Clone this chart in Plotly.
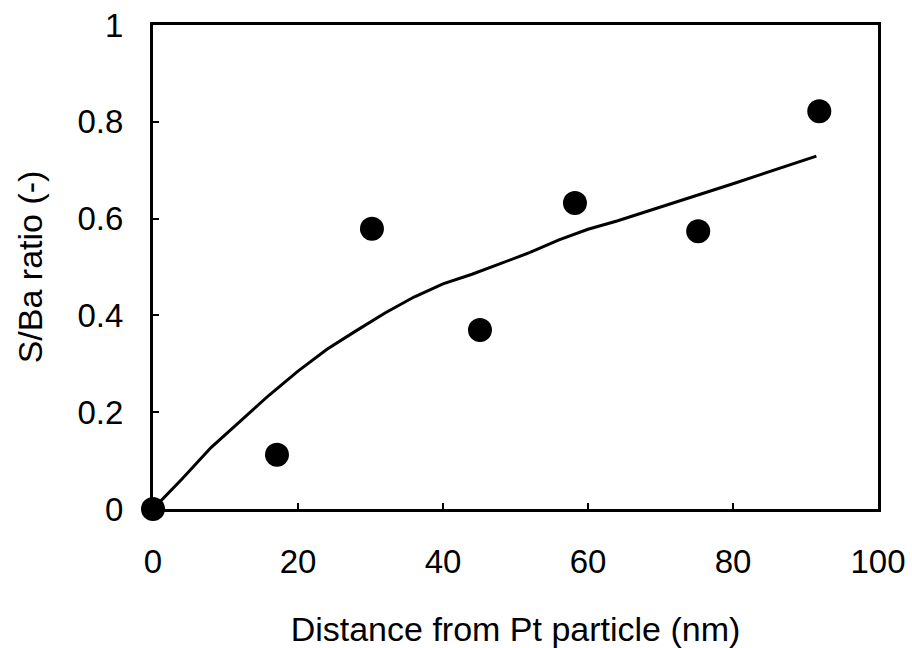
import plotly.graph_objects as go

# Measured data points
distance_nm = [0, 17.1, 30.2, 45.1, 58.2, 75.2, 91.9]
s_ba_ratio = [0.0, 0.112, 0.579, 0.370, 0.632, 0.574, 0.822]

# Fitted curve
curve_x = [0, 4, 8, 12, 16, 20, 24, 28, 32, 36, 40, 44, 48, 52, 56, 60, 64, 68, 72, 76, 80, 84, 88, 91.5]
curve_y = [0.0, 0.062, 0.127, 0.18, 0.235, 0.285, 0.33, 0.368, 0.405, 0.438, 0.465, 0.485, 0.508,
           0.53, 0.556, 0.578, 0.595, 0.614, 0.633, 0.652, 0.672, 0.692, 0.712, 0.729]

x_ticks = [0, 20, 40, 60, 80, 100]
y_ticks = [0, 0.2, 0.4, 0.6, 0.8, 1]

FONT = "Liberation Sans, Arial, sans-serif"

fig = go.Figure()
fig.add_trace(go.Scatter(x=curve_x, y=curve_y, mode="lines",
                         line=dict(color="black", width=3), showlegend=False))
fig.add_trace(go.Scatter(x=distance_nm, y=s_ba_ratio, mode="markers",
                         marker=dict(color="black", size=24), cliponaxis=False,
                         showlegend=False))

fig.update_layout(
    width=912, height=648,
    margin=dict(l=153, r=34, t=25, b=139),
    paper_bgcolor="white", plot_bgcolor="white",
    font=dict(family=FONT, size=33, color="black"),
    xaxis=dict(range=[0, 100], tickvals=x_ticks, ticks="inside", ticklen=6, tickwidth=2,
               tickcolor="black", showline=True, linewidth=3, linecolor="black", mirror=True,
               showgrid=False, zeroline=False, ticklabelstandoff=21, automargin=False,
               tickfont=dict(size=33),
               title=dict(text="Distance from Pt particle (nm)", standoff=40,
                          font=dict(size=34))),
    yaxis=dict(range=[0, 1], tickvals=y_ticks, ticks="inside", ticklen=6, tickwidth=2,
               tickcolor="black", showline=True, linewidth=3, linecolor="black", mirror=True,
               showgrid=False, zeroline=False, ticklabelstandoff=20, automargin=False,
               tickfont=dict(size=33),
               title=dict(text="S/Ba ratio (-)", standoff=25, font=dict(size=34))),
)

fig.write_html("out.html")
